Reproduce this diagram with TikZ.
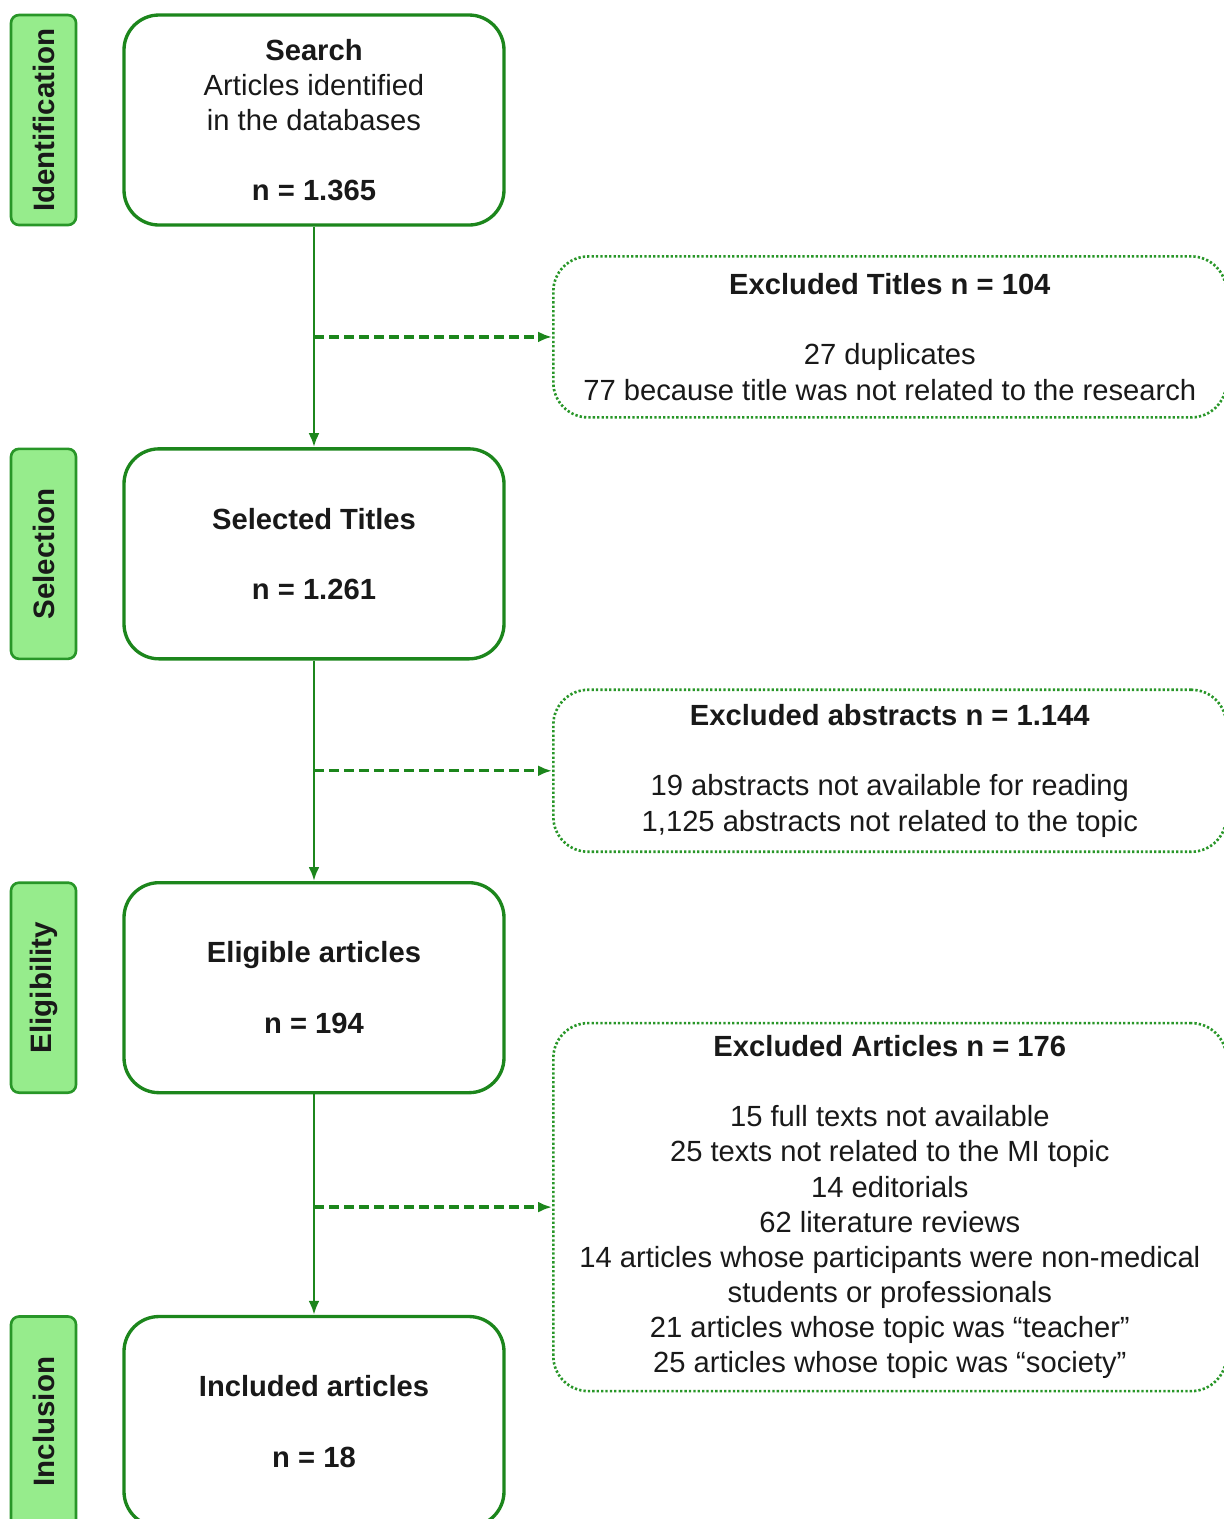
\documentclass[tikz,border=0pt]{standalone}
\usepackage{fontspec}
\setmainfont{Liberation Sans}
\usepackage{graphicx}
\usetikzlibrary{arrows.meta,positioning,calc}
\definecolor{flowgreen}{RGB}{28,134,28}
\definecolor{stagegreen}{RGB}{40,150,40}
\definecolor{stagefill}{RGB}{150,236,140}
\tikzset{
  stepbox/.style={
    draw=flowgreen,
    line width=1.9pt,
    fill=white,
    rounded corners=0.7cm,
    minimum width=7.6cm,
    minimum height=4.2cm,
    align=center,
    inner sep=0pt,
    text=black!90,
    font=\fontsize{16.6}{20}\selectfont
  },
  stagebox/.style={
    draw=stagegreen,
    line width=1.5pt,
    fill=stagefill,
    rounded corners=0.16cm,
    minimum width=1.3cm,
    minimum height=4.2cm,
    inner sep=0pt,
    text=black!90,
    font=\fontsize{16.8}{20}\selectfont\bfseries
  },
  exclbox/.style={
    draw=stagegreen,
    line width=1.5pt,
    dash pattern=on 1.3pt off 1.2pt,
    fill=white,
    rounded corners=0.7cm,
    minimum width=13.46cm,
    align=center,
    inner sep=0pt,
    text=black!90,
    font=\fontsize{16.6}{20}\selectfont
  },
  flow/.style={-{Latex[length=0.28cm,width=0.22cm]},draw=flowgreen,line width=1.7pt},
  skipflow/.style={flow,dash pattern=on 0.2cm off 0.1cm,line width=1.9pt}
}
\begin{document}
\begin{tikzpicture}[node distance=4.41cm and 0.9cm]
\useasboundingbox (0,0) rectangle (24.48,-30.38);
\clip (0,0) rectangle (24.48,-30.38);
% main column
\node[stepbox] (search) at (6.28,-2.4) {\textbf{Search}\\Articles identified\\in the databases\\[20pt]\textbf{n = 1.365}};
\node[stepbox,below=of search,font=\fontsize{16.6}{20}\selectfont\bfseries] (titles) {Selected Titles\\[20pt]n = 1.261};
\node[stepbox,below=of titles,font=\fontsize{16.6}{20}\selectfont\bfseries] (eligible) {Eligible articles\\[20pt]n = 194};
\node[stepbox,below=of eligible,font=\fontsize{16.6}{20}\selectfont\bfseries] (included) {Included articles\\[20pt]n = 18};
% stage labels
\node[stagebox,left=of search] (ident) {\rotatebox{90}{Identification}};
\node[stagebox,left=of titles] (selection) {\rotatebox{90}{Selection}};
\node[stagebox,left=of eligible] (eligibility) {\rotatebox{90}{Eligibility}};
\node[stagebox,left=of included] (inclusion) {\rotatebox{90}{Inclusion}};
% exclusions
\coordinate (split1) at ($(search.south)!0.5!(titles.north)$);
\coordinate (split2) at ($(titles.south)!0.5!(eligible.north)$);
\coordinate (split3) at ($(eligible.south)!0.5!(included.north)+(0,-0.05)$);
\node[exclbox,right=4.76cm of split1,minimum height=3.22cm] (extitles) {\textbf{Excluded Titles n = 104}\\[20pt]27 duplicates\\77 because title was not related to the research};
\node[exclbox,right=4.76cm of split2,minimum height=3.24cm] (exabstracts) {\textbf{Excluded abstracts n = 1.144}\\[20pt]19 abstracts not available for reading\\1,125 abstracts not related to the topic};
\node[exclbox,right=4.76cm of split3,minimum height=7.36cm] (exarticles) {\textbf{Excluded Articles n = 176}\\[20pt]15 full texts not available\\25 texts not related to the MI topic\\14 editorials\\62 literature reviews\\14 articles whose participants were non-medical\\students or professionals\\21 articles whose topic was “teacher”\\25 articles whose topic was “society”};
\draw[flow] (search)--(titles);
\draw[flow] (titles)--(eligible);
\draw[flow] (eligible)--(included);
\draw[skipflow] (split1)--(extitles);
\draw[skipflow] (split2)--(exabstracts);
\draw[skipflow] (split3)--(exarticles);
\end{tikzpicture}
\end{document}
